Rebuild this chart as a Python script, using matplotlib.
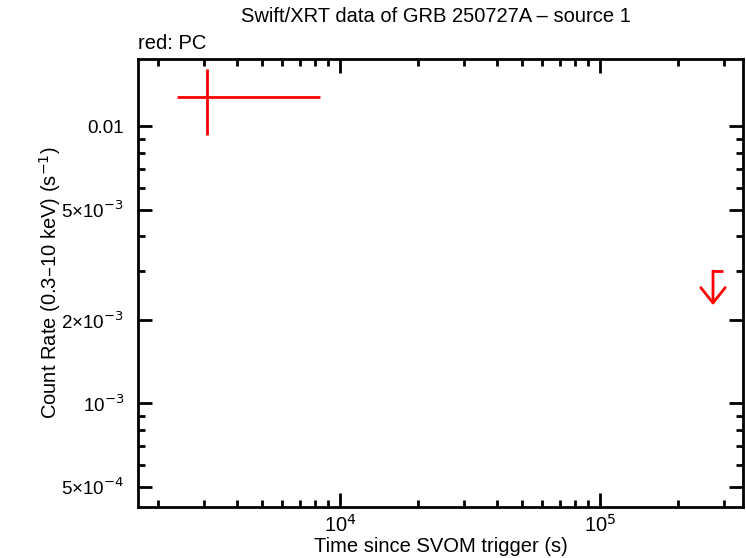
import numpy as np
import matplotlib.pyplot as plt
from matplotlib.ticker import FixedLocator, NullFormatter

plt.rcParams['font.family'] = ['Liberation Sans', 'DejaVu Sans']

# PC detection
pc_t = [3080.0]
pc_t_lo = [2360.0]
pc_t_hi = [8380.0]
pc_rate = [0.01273]
pc_rate_lo = [0.00928]
pc_rate_hi = [0.01607]

# PC upper limit
ul_t = [2.72e5]
ul_t_lo = [2.69e5]
ul_t_hi = [2.97e5]
ul_rate = [0.0030]
ul_tip = [0.00226]

ytick_vals = [5e-4, 1e-3, 2e-3, 5e-3, 1e-2]
ytick_labels = ['5×10$^{-4}$', '10$^{-3}$', '2×10$^{-3}$', '5×10$^{-3}$', '0.01']
xtick_vals = [1e4, 1e5]
xtick_labels = ['10$^4$', '10$^5$']

fs = 14.5

fig = plt.figure(figsize=(7.46, 5.58), dpi=100)
ax = fig.add_axes([0.185, 0.0914, 0.811, 0.8026])
ax.set_xscale('log')
ax.set_yscale('log')
ax.set_xlim(1671, 354800)
ax.set_ylim(4.22e-4, 0.01746)

t = np.array(pc_t)
r = np.array(pc_rate)
ax.errorbar(t, r,
            xerr=[t - np.array(pc_t_lo), np.array(pc_t_hi) - t],
            yerr=[r - np.array(pc_rate_lo), np.array(pc_rate_hi) - r],
            fmt='none', ecolor='red', elinewidth=2, capsize=0)

ax.hlines(ul_rate, ul_t_lo, ul_t_hi, color='red', lw=2)
for x, y0, y1 in zip(ul_t, ul_rate, ul_tip):
    ax.annotate('', xy=(x, y1), xytext=(x, y0),
                arrowprops=dict(arrowstyle='->,head_length=0.5,head_width=0.4',
                                color='red', lw=2,
                                mutation_scale=22, shrinkA=0, shrinkB=0))

ax.yaxis.set_major_locator(FixedLocator(ytick_vals))
ax.set_yticklabels(ytick_labels)
minor_y = [k * 10.0 ** e for e in (-4, -3, -2) for k in range(2, 10)]
minor_y = [v for v in minor_y if v not in ytick_vals]
ax.yaxis.set_minor_locator(FixedLocator(minor_y))
ax.yaxis.set_minor_formatter(NullFormatter())

ax.xaxis.set_major_locator(FixedLocator(xtick_vals))
ax.set_xticklabels(xtick_labels)
minor_x = [k * 10.0 ** e for e in (3, 4, 5) for k in range(2, 10)]
ax.xaxis.set_minor_locator(FixedLocator(minor_x))
ax.xaxis.set_minor_formatter(NullFormatter())

ax.tick_params(which='both', direction='in', top=True, right=True, width=2,
               labelsize=fs)
ax.tick_params(axis='y', labelsize=13.5, pad=10)
ax.tick_params(axis='x', pad=5)
ax.tick_params(which='major', length=10)
ax.tick_params(which='minor', length=5)
for s in ax.spines.values():
    s.set_linewidth(2)

ax.set_xlabel('Time since SVOM trigger (s)', fontsize=fs, labelpad=1)
ax.set_ylabel('Count Rate (0.3–10 keV) (s$^{-1}$)', fontsize=fs)
ax.yaxis.set_label_coords(-0.124, 0.5)
fig.text(0.585, 0.988, 'Swift/XRT data of GRB 250727A – source 1',
         ha='center', va='top', fontsize=fs)
fig.text(0.185, 0.905, 'red: PC', ha='left', va='bottom', fontsize=fs)

fig.savefig('out.png', dpi=100)
